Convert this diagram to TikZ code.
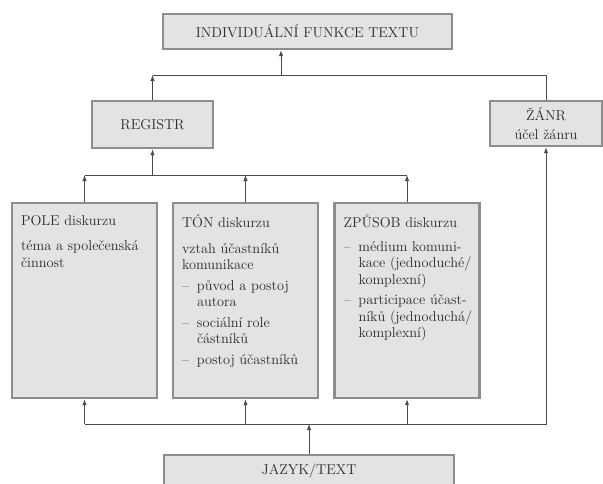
\documentclass[tikz,border=0pt]{standalone}
\usepackage{fontspec}
\usetikzlibrary{arrows.meta}

\definecolor{boxfill}{HTML}{E2E3E5}
\definecolor{boxline}{HTML}{8C8D8F}
\definecolor{wire}{HTML}{4A4A4A}
\definecolor{ink}{HTML}{2E2A26}

\newcommand{\pomlka}[1]{\makebox[15pt][l]{–}\mbox{#1}}
\newcommand{\odsad}[1]{\hspace*{15pt}\mbox{#1}}
\newcommand{\obsah}[1]{\parbox[t][171pt][t]{127pt}{\raggedright #1}}

\tikzset{
  box/.style={draw=boxline, line width=2.4pt, fill=boxfill, text=ink,
    font=\fontsize{14.3}{16.5}\selectfont, inner sep=0pt},
  wire/.style={draw=wire, line width=1pt},
  arr/.style={wire, -{Latex[length=6pt,width=4.5pt]}},
}

\begin{document}
\begin{tikzpicture}[x=1pt,y=-1pt]
  \useasboundingbox (0,0) rectangle (603,483);

  % boxes
  \node[box, minimum width=289pt, minimum height=35pt] (funkce) at (307.5,31.5) {INDIVIDUÁLNÍ FUNKCE TEXTU};
  \node[box, minimum width=121pt, minimum height=47pt] (registr) at (152.5,124.5) {REGISTR};
  \node[box, minimum width=112pt, minimum height=45pt, align=center] (zanr) at (546,123.5) {ŽÁNR\\[2pt]účel žánru};

  \begin{scope}[every node/.style={box, inner xsep=9pt, inner ysep=12pt}]
    \node (pole) at (84.5,300.5) {\obsah{POLE diskurzu\\[9pt]
        téma a společenská\\ činnost}};
    \node (ton) at (245.5,300.5) {\obsah{TÓN diskurzu\\[9pt]
        vztah účastníků\\ komunikace\\[4pt]
        \pomlka{původ a postoj}\\ \odsad{autora}\\[4pt]
        \pomlka{sociální role}\\ \odsad{částníků}\\[4pt]
        \pomlka{postoj účastníků}}};
    \node (zpusob) at (407,300.5) {\obsah{ZPŮSOB diskurzu\\[7pt]
        \pomlka{médium komuni-}\\ \odsad{kace (jednoduché/}\\ \odsad{komplexní)}\\[4pt]
        \pomlka{participace účast-}\\ \odsad{níků (jednoduchá/}\\ \odsad{komplexní)}}};
  \end{scope}

  \node[box, minimum width=290pt, minimum height=32pt] (jazyk) at (309,471) {JAZYK/TEXT};

  % bus lines
  \coordinate (nahore) at (281,75);
  \coordinate (uprostred) at (0,175);
  \coordinate (dole) at (309,424);

  \draw[wire] (registr.north |- nahore) -| (zanr.north);
  \draw[arr] (registr.north) -- (registr.north |- nahore);
  \draw[arr] (nahore) -- (nahore |- funkce.south);

  \draw[wire] (pole.north |- uprostred) -- (zpusob.north |- uprostred);
  \foreach \b in {pole,ton,zpusob}
    \draw[arr] (\b.north) -- (\b.north |- uprostred);
  \draw[arr] (registr.south |- uprostred) -- (registr.south);

  \draw[arr] (pole.south |- dole) -| (zanr.south);
  \foreach \b in {pole,ton,zpusob}
    \draw[arr] (\b.south |- dole) -- (\b.south);
  \draw[arr] (jazyk.north) -- (dole);

\end{tikzpicture}
\end{document}
